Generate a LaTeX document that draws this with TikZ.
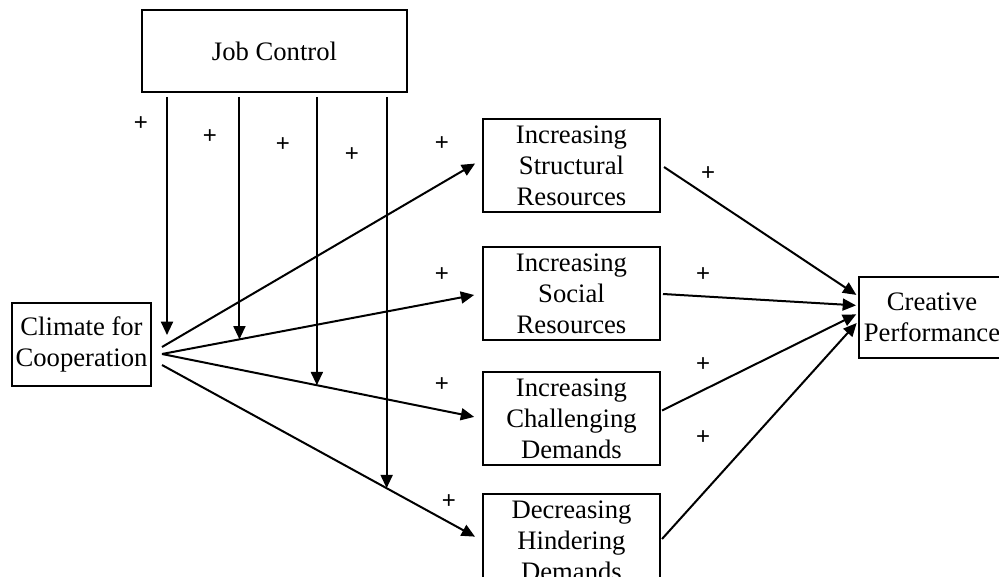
\documentclass[tikz,border=0pt]{standalone}
\usepackage{fontspec}
\setmainfont{Liberation Serif}
\newfontfamily\signfont{Liberation Sans}
\usetikzlibrary{arrows.meta, positioning, calc}

\begin{document}
\begin{tikzpicture}[
    x=0.75pt, y=-0.75pt,
    font=\fontsize{20}{23.25}\selectfont,
    >={Triangle[length=10pt, width=9pt]},
    box/.style={draw, line width=1.5pt, align=center, inner sep=0pt},
    midbox/.style={box, minimum width=132.75pt, minimum height=69.75pt},
    link/.style={->, line width=1.5pt, shorten >=6pt},
    modline/.style={->, line width=1.5pt, shorten <=3pt},
    sign/.style={font=\signfont\fontsize{18}{18}\selectfont, inner sep=0pt}
]
    % canvas: 999 x 577 px
    \path[use as bounding box] (0,0) rectangle (999,577);

    % ==========================================
    % Boxes
    % ==========================================
    \node[box, minimum width=198.75pt, minimum height=61.5pt] (job) at (274.5,51) {Job Control};
    \node[box, minimum width=104.25pt, minimum height=62.25pt] (climate) at (81.5,344.5) {Climate for\\Cooperation};

    \node[midbox] (struct) at (571.5,165.5) {Increasing\\Structural\\Resources};
    \node[midbox, below=24.75pt of struct] (social) {Increasing\\Social\\Resources};
    \node[midbox, below=22.5pt of social] (chall) {Increasing\\Challenging\\Demands};
    \node[midbox, below=20.25pt of chall] (decr) {Decreasing\\Hindering\\Demands};

    \node[box, minimum width=109.5pt, minimum height=60.75pt] (creative) at (932,317.5) {Creative\\Performance};

    % ==========================================
    % Climate -> mediators
    % ==========================================
    \coordinate (c1) at ($(climate.east)+(10,2.5)$);
    \coordinate (c2) at ($(climate.east)+(10,9.5)$);
    \coordinate (c3) at ($(climate.east)+(10,20.5)$);

    \draw[link] (c1) -- ($(struct.west)+(0,-6)$);
    \draw[link] (c2) -- (social.west) coordinate[pos=0.242] (m2);
    \draw[link] (c2) -- (chall.west) coordinate[pos=0.484] (m3);
    \draw[link] (c3) -- (decr.west) coordinate[pos=0.702] (m4);

    % ==========================================
    % Job Control moderates
    % ==========================================
    \coordinate (m1) at (167,335);
    \foreach \m in {m1,m2,m3,m4} {
        \draw[modline] (\m |- job.south) -- (\m);
    }

    % ==========================================
    % mediators -> Creative Performance
    % ==========================================
    \draw[link, shorten >=1.5pt] ($(struct.east)+(3,1.5)$) -- ($(creative.west)+(0,-21.5)$);
    \draw[link, shorten >=1.5pt] ($(social.east)+(2,0.5)$) -- ($(creative.west)+(0,-12)$);
    \draw[link, shorten >=1.5pt] ($(chall.east)+(1,-8)$) -- ($(creative.west)+(0,-4)$);
    \draw[link, shorten >=1.5pt] ($(decr.east)+(1,-1.5)$) -- ($(creative.west)+(0,4)$);

    % ==========================================
    % signs
    % ==========================================
    \node[sign] (p1) at (141,124) {+};
    \node[sign] (p2) at (210,137) {+};
    \node[sign] (p3) at (283,145) {+};
    \node[sign] (p4) at (352,155) {+};
    \node[sign] (p5) at (442,144) {+};
    \node[sign] (p6) at (442,275) {+};
    \node[sign] (p7) at (442,385) {+};
    \node[sign] (p8) at (449,502) {+};
    \node[sign] (p9) at (708,174) {+};
    \node[sign] (p10) at (703,275) {+};
    \node[sign] (p11) at (703,365) {+};
    \node[sign] (p12) at (703,438) {+};

\end{tikzpicture}
\end{document}
